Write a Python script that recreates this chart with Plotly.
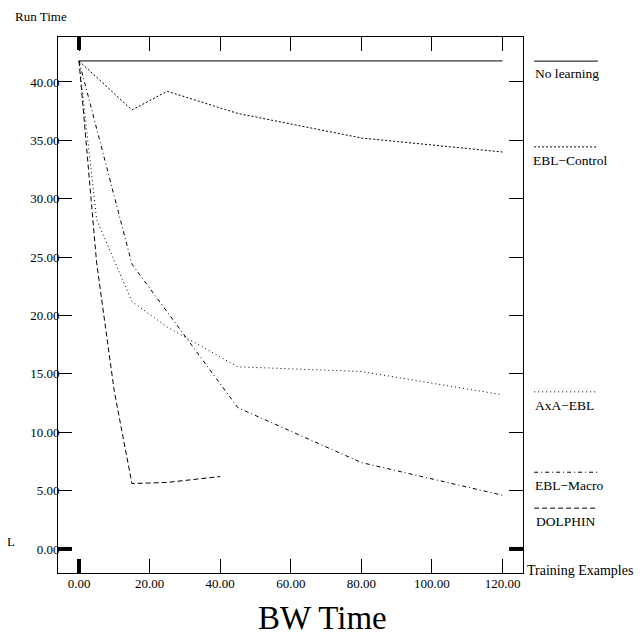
import plotly.graph_objects as go

# ---- data ----
no_learning_x = [0, 120]
no_learning_y = [41.8, 41.8]

ebl_control_x = [0, 15, 25, 45, 80, 120]
ebl_control_y = [41.8, 37.6, 39.2, 37.3, 35.2, 34.0]

axa_ebl_x = [0, 5, 15, 25, 45, 80, 120]
axa_ebl_y = [41.8, 28.2, 21.2, 19.0, 15.6, 15.2, 13.2]

ebl_macro_x = [0, 15, 45, 80, 120]
ebl_macro_y = [41.8, 24.4, 12.1, 7.4, 4.6]

dolphin_x = [0, 5, 10, 15, 25, 40]
dolphin_y = [41.8, 24.5, 13.5, 5.6, 5.7, 6.2]

x_ticks = [0, 20, 40, 60, 80, 100, 120]
y_ticks = [0, 5, 10, 15, 20, 25, 30, 35, 40]

series = [
    ("No learning", no_learning_x, no_learning_y, "solid"),
    ("EBL\u2212Control", ebl_control_x, ebl_control_y, "2px,2px"),
    ("AxA\u2212EBL", axa_ebl_x, axa_ebl_y, "1px,3px"),
    ("EBL\u2212Macro", ebl_macro_x, ebl_macro_y, "4px,3px,1px,3px"),
    ("DOLPHIN", dolphin_x, dolphin_y, "5px,3px"),
]

FONT = "Liberation Serif, Times New Roman, serif"

fig = go.Figure()
for name, xs, ys, dash in series:
    fig.add_trace(go.Scatter(x=xs, y=ys, mode="lines", name=name,
                             line=dict(color="black", width=1, dash=dash),
                             showlegend=False))

# legend drawn manually (line sample above label, outside right)
legend_pos = [  # (line y paper, text y paper, text x paper)
    (0.955, 0.931, 1.0215),
    (0.795, 0.769, 1.017),
    (0.338, 0.313, 1.0215),
    (0.188, 0.164, 1.0215),
    (0.121, 0.097, 1.024),
]
shapes = []
annotations = []
for (name, xs, ys, dash), (ly, ty, tx) in zip(series, legend_pos):
    shapes.append(dict(type="line", xref="paper", yref="paper",
                       x0=1.024, x1=1.161, y0=ly, y1=ly,
                       line=dict(color="black", width=1, dash=dash)))
    annotations.append(dict(text=name, xref="paper", yref="paper", x=tx, y=ty,
                            xanchor="left", yanchor="middle", showarrow=False,
                            font=dict(family=FONT, size=13.5, color="black")))

# thick zero ticks
shapes += [
    dict(type="line", xref="x", yref="paper", x0=0, x1=0, y0=1, y1=0.9757,
         line=dict(color="black", width=4)),
    dict(type="line", xref="x", yref="paper", x0=0, x1=0, y0=0, y1=0.0262,
         line=dict(color="black", width=4)),
    dict(type="line", xref="paper", yref="y", x0=0, x1=0.030, y0=0, y1=0,
         line=dict(color="black", width=4)),
    dict(type="line", xref="paper", yref="y", x0=1, x1=0.970, y0=0, y1=0,
         line=dict(color="black", width=4)),
]

annotations += [
    dict(text="Training Examples", xref="paper", yref="paper", x=1.0043, y=0.004,
         xanchor="left", yanchor="middle", showarrow=False,
         font=dict(family=FONT, size=14, color="black")),
    dict(text="Run Time", xref="paper", yref="paper", x=-0.0968, y=1.039,
         xanchor="left", yanchor="middle", showarrow=False,
         font=dict(family=FONT, size=13, color="black")),
    dict(text="L", xref="paper", yref="paper", x=-0.114, y=0.0597,
         xanchor="left", yanchor="middle", showarrow=False,
         font=dict(family=FONT, size=13, color="black")),
    dict(text="BW Time", xref="paper", yref="paper", x=0.569, y=-0.084,
         xanchor="center", yanchor="middle", showarrow=False,
         font=dict(family=FONT, size=33, color="black")),
]

fig.update_layout(
    width=642, height=636,
    margin=dict(l=50, r=127, t=29, b=71),
    paper_bgcolor="white", plot_bgcolor="white",
    font=dict(family=FONT, size=13, color="black"),
    shapes=shapes, annotations=annotations,
    showlegend=False,
)
fig.update_xaxes(range=[-5.95, 125.8], tickvals=x_ticks,
                 ticktext=[f"{v:.2f}" for v in x_ticks],
                 showgrid=False, zeroline=False, showline=True, linecolor="black",
                 linewidth=1, mirror="ticks", ticks="inside", ticklen=14,
                 tickcolor="black", tickwidth=1, ticklabelstandoff=-2)
fig.update_yaxes(range=[-2.06, 43.85], tickvals=y_ticks,
                 ticktext=[f"{v:.2f}" for v in y_ticks],
                 showgrid=False, zeroline=False, showline=True, linecolor="black",
                 linewidth=1, mirror="ticks", ticks="inside", ticklen=14,
                 tickcolor="black", tickwidth=1, ticklabelstandoff=-5)

fig.write_html("out.html")
